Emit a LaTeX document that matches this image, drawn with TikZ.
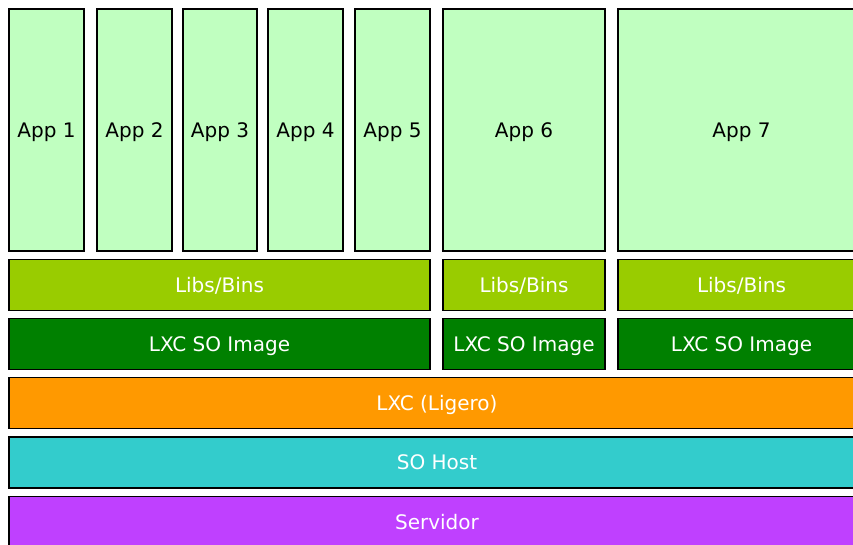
\documentclass[tikz,border=0pt]{standalone}
\usepackage{fontspec}
\setmainfont{DejaVu Sans}
\definecolor{appgreen}{RGB}{192,255,192}
\definecolor{libgreen}{RGB}{153,204,0}
\definecolor{imggreen}{RGB}{0,128,0}
\definecolor{lxcorange}{RGB}{255,153,0}
\definecolor{hostcyan}{RGB}{51,204,204}
\definecolor{srvpurple}{RGB}{191,64,255}
\begin{document}
\begin{tikzpicture}[x=1pt,y=-1pt,
  layer/.style={draw=black,line width=1.6pt,rectangle,inner sep=0pt,
    font=\fontsize{20}{22}\selectfont,text depth=0pt,text=white,minimum height=51pt},
  app/.style={layer,fill=appgreen,text=black,minimum height=242pt}]
\useasboundingbox (0,0) rectangle (853,544);

% apps
\node (app1) at (46.5,130) [app,minimum width=75pt]{App 1};
\node (app2) at (134.5,130) [app,minimum width=75pt]{App 2};
\node (app3) at (220,130) [app,minimum width=74pt]{App 3};
\node (app4) at (305.5,130) [app,minimum width=75pt]{App 4};
\node (app5) at (392.5,130) [app,minimum width=75pt]{App 5};
\node (app6) at (524,130) [app,minimum width=162pt]{App 6};
\node (app7) at (741.5,130) [app,minimum width=247pt]{App 7};

% libs and images
\node (libs1) at (219.5,285) [layer,fill=libgreen,minimum width=421pt]{Libs/Bins};
\node (libs2) at (524,285) [layer,fill=libgreen,minimum width=162pt]{Libs/Bins};
\node (libs3) at (741.5,285) [layer,fill=libgreen,minimum width=247pt]{Libs/Bins};
\node (img1) at (219.5,344) [layer,fill=imggreen,minimum width=421pt]{LXC SO Image};
\node (img2) at (524,344) [layer,fill=imggreen,minimum width=162pt]{LXC SO Image};
\node (img3) at (741.5,344) [layer,fill=imggreen,minimum width=247pt]{LXC SO Image};

% bottom layers
\node (lxc) at (437,403) [layer,fill=lxcorange,minimum width=856pt]{LXC (Ligero)};
\node (host) at (437,462.5) [layer,fill=hostcyan,minimum width=856pt]{SO Host};
\node (srv) at (437,522) [layer,fill=srvpurple,minimum width=856pt]{Servidor};
\end{tikzpicture}
\end{document}
